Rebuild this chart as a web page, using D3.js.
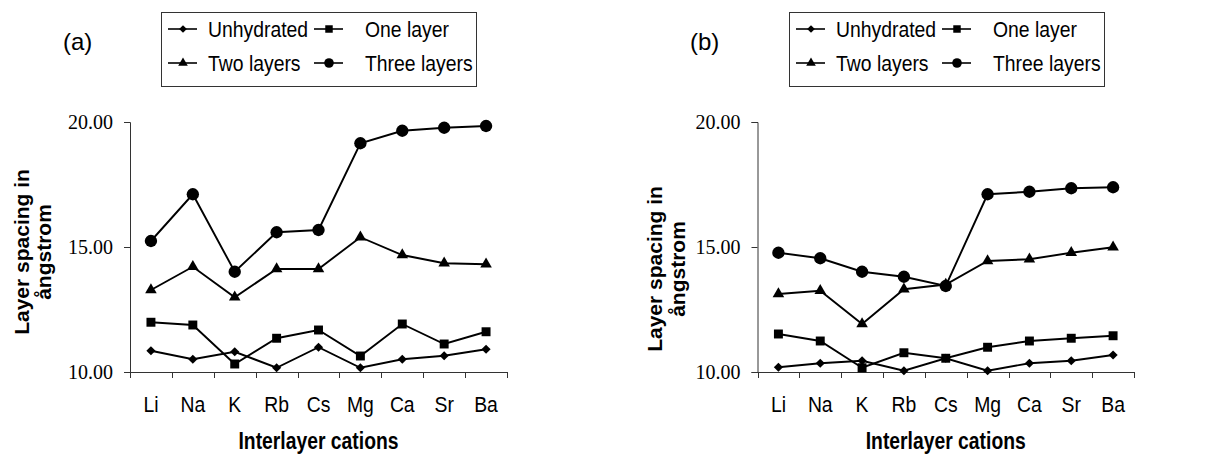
<!DOCTYPE html>
<html>
<head>
<meta charset="utf-8">
<script src="https://cdn.jsdelivr.net/npm/d3@7"></script>
<style>
  body { margin: 0; background: #fff; }
  svg { display: block; }
</style>
</head>
<body>
<div id="container"></div>
<script>
// data
var cations = ["Li", "Na", "K", "Rb", "Cs", "Mg", "Ca", "Sr", "Ba"];
var seriesNames = ["Unhydrated", "One layer", "Two layers", "Three layers"];
var yTicks = [10, 15, 20];

// panel (a)
var aUnhydrated = [10.85, 10.51, 10.81, 10.17, 10.99, 10.17, 10.51, 10.65, 10.91];
var aOneLayer   = [11.99, 11.88, 10.32, 11.35, 11.68, 10.64, 11.92, 11.12, 11.61];
var aTwoLayers  = [13.28, 14.21, 12.99, 14.12, 14.12, 15.39, 14.68, 14.35, 14.31];
var aThree      = [15.24, 17.11, 14.01, 15.59, 15.68, 19.15, 19.65, 19.77, 19.84];

// panel (b)
var bUnhydrated = [10.19, 10.35, 10.45, 10.05, 10.55, 10.05, 10.35, 10.45, 10.68];
var bOneLayer   = [11.52, 11.24, 10.17, 10.77, 10.55, 10.99, 11.24, 11.35, 11.45];
var bTwoLayers  = [13.12, 13.25, 11.92, 13.31, 13.50, 14.44, 14.51, 14.77, 14.99];
var bThree      = [14.77, 14.55, 14.01, 13.81, 13.44, 17.11, 17.21, 17.35, 17.39];

var width = 1225, height = 454;

var svg = d3.select("div#container")
  .append("svg")
  .attr("width", width)
  .attr("height", height)
  .attr("viewBox", "0 0 " + width + " " + height);

var sans = "Liberation Sans, Arial, sans-serif";
var serif = "Liberation Serif, Times New Roman, serif";

// squeeze text sideways, the original looks a bit narrow
function squeeze(sel, factor) {
  sel.each(function() {
    var w = this.getComputedTextLength();
    d3.select(this).attr("textLength", w * factor).attr("lengthAdjust", "spacingAndGlyphs");
  });
}

// marker shapes, big for the plot, small for the legend
function markerPath(i, big) {
  var s;
  if (i === 0) s = d3.symbol(d3.symbolSquare, big ? 42 : 30);
  else if (i === 1) s = d3.symbol(d3.symbolSquare, big ? 80 : 56);
  else if (i === 2) s = d3.symbol(d3.symbolTriangle, big ? 58 : 40);
  else s = d3.symbol(d3.symbolCircle, big ? 120 : 72);
  return s();
}
function markerRotate(i) { return i === 0 ? " rotate(45)" : ""; }

function drawPanel(p) {
  var g = svg.append("g");

  var x = d3.scaleBand().domain(cations).range([p.left, p.right]).padding(0);
  var y = d3.scaleLinear().domain([10, 20]).range([372, 122]);

  // y axis
  var yAxis = g.append("g")
    .attr("transform", "translate(" + p.left + ",0)")
    .attr("font-family", serif)
    .attr("font-size", 20)
    .call(d3.axisLeft(y).tickValues(yTicks).tickSize(6).tickPadding(11)
      .tickFormat(d3.format(".2f")));
  yAxis.attr("font-family", serif).attr("font-size", 20);
  yAxis.select(".domain").attr("stroke", "#333");
  yAxis.selectAll(".tick line").attr("stroke", "#333");
  yAxis.selectAll(".tick text").attr("fill", "#000")
    .style("font-family", serif).style("font-size", "20px");

  // x axis, ticks at band edges
  var edges = cations.map(function(c) { return x(c); }).concat([p.right]);
  var xg = g.append("g").attr("transform", "translate(0,372)");
  xg.append("line").attr("x1", p.left).attr("x2", p.right + 0.5)
    .attr("y1", 0.5).attr("y2", 0.5).attr("stroke", "#333");
  xg.selectAll("line.tk").data(edges).enter().append("line").attr("class", "tk")
    .attr("x1", function(d) { return Math.round(d) + 0.5; })
    .attr("x2", function(d) { return Math.round(d) + 0.5; })
    .attr("y1", 0).attr("y2", 6).attr("stroke", "#333");
  var xl = xg.selectAll("text").data(cations).enter().append("text")
    .attr("x", function(d) { return x(d) + x.bandwidth() / 2; })
    .attr("y", 40)
    .attr("text-anchor", "middle")
    .style("font-family", sans).style("font-size", "22px")
    .text(function(d) { return d; });
  squeeze(xl, 0.88);

  // axis titles
  var xt = g.append("text")
    .attr("x", (p.left + p.right) / 2).attr("y", 449)
    .attr("text-anchor", "middle")
    .style("font-family", sans).style("font-size", "23px").style("font-weight", "bold")
    .text("Interlayer cations");
  squeeze(xt, 160 / xt.node().getComputedTextLength());

  var yt = g.append("text")
    .attr("transform", "translate(" + p.ytX + "," + p.ytY + ") rotate(-90)")
    .attr("text-anchor", "middle")
    .style("font-family", sans).style("font-size", "21px").style("font-weight", "bold");
  yt.append("tspan").attr("x", 0).attr("y", 0).text("Layer spacing in");
  yt.append("tspan").attr("x", 0).attr("y", p.ytGap).text("ångstrom");

  // series lines and markers
  var line = d3.line()
    .x(function(d, i) { return x(cations[i]) + x.bandwidth() / 2; })
    .y(function(d) { return y(d); });

  p.series.forEach(function(vals, si) {
    g.append("path").datum(vals)
      .attr("d", line)
      .attr("fill", "none").attr("stroke", "#000").attr("stroke-width", 1.9);
    g.selectAll("path.m" + si).data(vals).enter().append("path")
      .attr("class", "m" + si)
      .attr("d", markerPath(si, true))
      .attr("transform", function(d, i) {
        return "translate(" + (x(cations[i]) + x.bandwidth() / 2) + "," + y(d) + ")" + markerRotate(si);
      })
      .attr("fill", "#000");
  });

  // panel label
  g.append("text").attr("x", p.labelX).attr("y", 50)
    .style("font-family", sans).style("font-size", "24px").text(p.label);

  // legend
  var lg = g.append("g").attr("transform", "translate(" + p.legendX + ",12)");
  lg.append("rect").attr("x", 0.5).attr("y", 0.5).attr("width", 315).attr("height", 74)
    .attr("fill", "#fff").attr("stroke", "#333");
  var cols = [[7, 47], [153, 204]];
  var rows = [17, 51];
  seriesNames.forEach(function(name, i) {
    var c = cols[i % 2], r = rows[Math.floor(i / 2)];
    lg.append("line").attr("x1", c[0]).attr("x2", c[0] + 29)
      .attr("y1", r).attr("y2", r).attr("stroke", "#000").attr("stroke-width", 1.6);
    lg.append("path").attr("d", markerPath(i, false))
      .attr("transform", "translate(" + (c[0] + 15) + "," + r + ")" + markerRotate(i))
      .attr("fill", "#000");
    var t = lg.append("text").attr("x", c[1]).attr("y", r + 8)
      .style("font-family", sans).style("font-size", "22px").text(name);
    squeeze(t, 0.88);
  });
}

drawPanel({
  left: 130, right: 507, label: "(a)", labelX: 63, legendX: 161,
  ytX: 29, ytY: 252, ytGap: 22,
  series: [aUnhydrated, aOneLayer, aTwoLayers, aThree]
});
drawPanel({
  left: 757.5, right: 1134, label: "(b)", labelX: 690, legendX: 789,
  ytX: 662, ytY: 269, ytGap: 23,
  series: [bUnhydrated, bOneLayer, bTwoLayers, bThree]
});
</script>
</body>
</html>
